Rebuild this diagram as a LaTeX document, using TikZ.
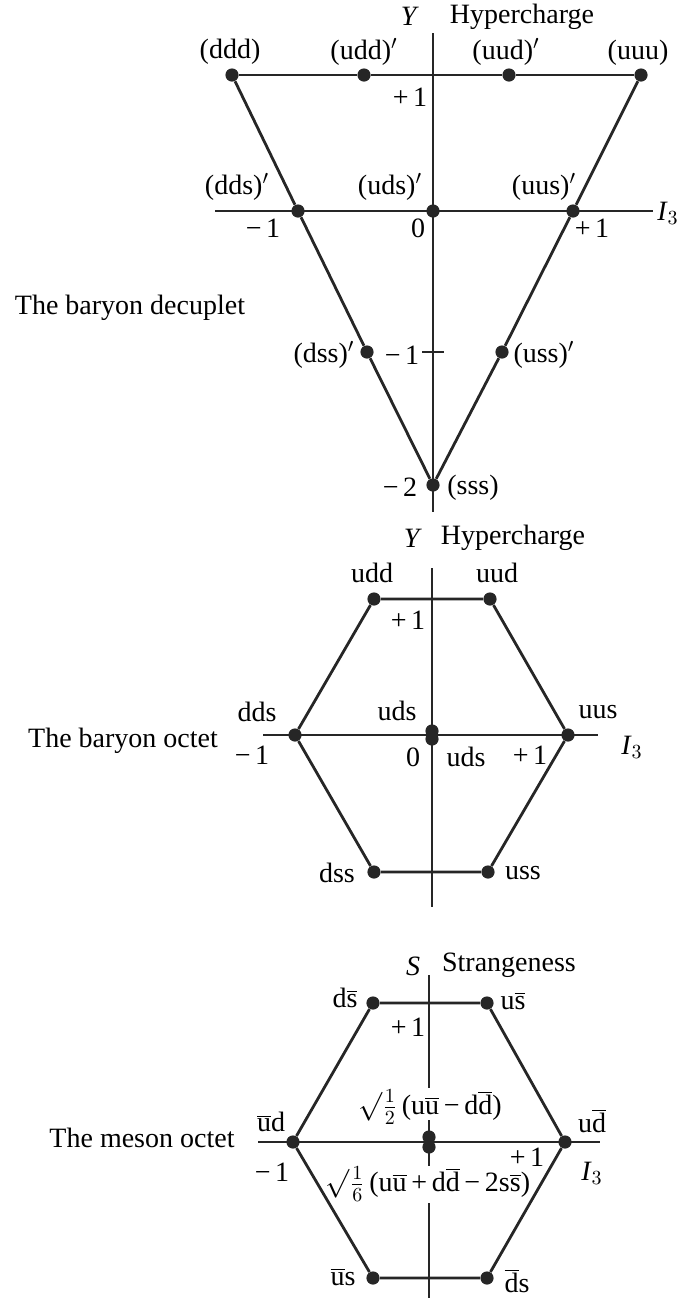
\documentclass[tikz,border=0pt]{standalone}
\usepackage{fontspec}
\setmainfont{Liberation Serif}
\usetikzlibrary{positioning}

\newcommand{\ovl}[1]{$\overline{\mbox{#1}}$}

\begin{document}
\begin{tikzpicture}[
    x=0.5pt, y=-0.5pt, % one unit = one pixel of the original
    every node/.style={font=\fontsize{14}{16}\selectfont, inner sep=1pt},
    dot/.style={fill=black!85, circle, inner sep=0pt, minimum size=6.6pt}, % Style for a particle
    axis/.style={line width=0.8pt, black!85},
    edge/.style={line width=1.4pt, black!85}
]
    \useasboundingbox (0,0) rectangle (683,1298);

    %% The baryon decuplet
    % Axes
    \coordinate (dYtop) at (433,33);  \coordinate (dYbot) at (433,512);
    \coordinate (dXlft) at (215,211); \coordinate (dXrgt) at (653,211);
    \draw[axis] (dYtop) -- (dYbot); % Y axis
    \draw[axis] (dXlft) -- (dXrgt); % I3 axis
    \coordinate (dTickl) at (422,352); \coordinate (dTickr) at (444,352);
    \draw[axis] (dTickl) -- (dTickr); % tick at -1

    % Particles
    \node[dot] (ddd) at (232,75) {};
    \node[dot] (udd) at (364,75) {};
    \node[dot] (uud) at (509,75) {};
    \node[dot] (uuu) at (641,75) {};
    \node[dot] (dds) at (298,211) {};
    \node[dot] (uds) at (433,211) {};
    \node[dot] (uus) at (573,211) {};
    \node[dot] (dss) at (367,352) {};
    \node[dot] (uss) at (502,352) {};
    \node[dot] (sss) at (433,485) {};

    % Triangle
    \draw[edge] (ddd) -- (udd) -- (uud) -- (uuu);
    \draw[edge] (uuu) -- (uus) -- (uss) -- (sss);
    \draw[edge] (sss) -- (dss) -- (dds) -- (ddd);

    % Labels
    \node (dY) at (410,16) {\textit{Y}};
    \node (dHyp) at (522,17) {Hypercharge};
    \node (lddd) at (230,52) {(ddd)};
    \node (ludd) at (364,52) {(udd)$'$};
    \node (luud) at (506,52) {(uud)$'$};
    \node (luuu) at (638,53) {(uuu)};
    \node (dP1) at (410,97) {+\,1};
    \node (ldds) at (237,187) {(dds)$'$};
    \node (luds) at (390,187) {(uds)$'$};
    \node (luus) at (544,187) {(uus)$'$};
    \node (dI) at (668,213) {\textit{I}$_3$};
    \node (dM1) at (263,228) {−\,1};
    \node (dZero) at (418,228) {0};
    \node (dP1b) at (592,228) {+\,1};
    \node (ldss) at (324,355) {(dss)$'$};
    \node (dM1b) at (402,355) {−\,1};
    \node (luss) at (544,355) {(uss)$'$};
    \node (dM2) at (400,487) {−\,2};
    \node (lsss) at (473,488) {(sss)};
    \node (dTitle) at (130,308) {The baryon decuplet};

    %% The baryon octet
    % Axes
    \coordinate (bYtop) at (432,568); \coordinate (bYbot) at (432,907);
    \coordinate (bXlft) at (263,735); \coordinate (bXrgt) at (598,735);
    \draw[axis] (bYtop) -- (bYbot);
    \draw[axis] (bXlft) -- (bXrgt);

    % Particles
    \node[dot] (oudd) at (374,599) {};
    \node[dot] (ouud) at (490,599) {};
    \node[dot] (ouus) at (568,735) {};
    \node[dot] (ouss) at (488,872) {};
    \node[dot] (odss) at (374,872) {};
    \node[dot] (odds) at (295,735) {};
    \node[dot] (oudsA) at (432,731) {};
    \node[dot] (oudsB) at (432,739) {};

    % Hexagon
    \draw[edge] (oudd) -- (ouud) -- (ouus) -- (ouss) -- (odss) -- (odds) -- (oudd);

    % Labels
    \node (bY) at (413,538) {\textit{Y}};
    \node (bHyp) at (513,538) {Hypercharge};
    \node (loudd) at (372,573) {udd};
    \node (louud) at (497,573) {uud};
    \node (bP1) at (408,620) {+\,1};
    \node (lodds) at (257,712) {dds};
    \node (loudsA) at (397,711) {uds};
    \node (louus) at (598,712) {uus};
    \node (bM1) at (252,755) {−\,1};
    \node (bZero) at (413,757) {0};
    \node (loudsB) at (466,757) {uds};
    \node (bP1b) at (530,755) {+\,1};
    \node (bI) at (632,747) {\textit{I}$_3$};
    \node (lodss) at (337,873) {dss};
    \node (louss) at (523,873) {uss};
    \node (bTitle) at (123,741) {The baryon octet};

    %% The meson octet
    % Axes (the S axis is broken by the two labels)
    \coordinate (mS1) at (429,975);  \coordinate (mS2) at (429,1088);
    \coordinate (mS3) at (429,1120); \coordinate (mS4) at (429,1166);
    \coordinate (mS5) at (429,1203); \coordinate (mS6) at (429,1298);
    \coordinate (mXlft) at (258,1142); \coordinate (mXrgt) at (600,1142);
    \draw[axis] (mS1) -- (mS2);
    \draw[axis] (mS3) -- (mS4);
    \draw[axis] (mS5) -- (mS6);
    \draw[axis] (mXlft) -- (mXrgt);

    % Particles
    \node[dot] (mds) at (373,1003) {};
    \node[dot] (mus) at (487,1003) {};
    \node[dot] (mud) at (565,1142) {};
    \node[dot] (mdbs) at (487,1278) {};
    \node[dot] (mubs) at (373,1278) {};
    \node[dot] (mubd) at (293,1142) {};
    \node[dot] (metaA) at (429,1137) {};
    \node[dot] (metaB) at (429,1147) {};

    % Hexagon
    \draw[edge] (mds) -- (mus) -- (mud) -- (mdbs) -- (mubs) -- (mubd) -- (mds);

    % Labels
    \node (mS) at (413,966) {\textit{S}};
    \node (mStr) at (509,965) {Strangeness};
    \node (lmds) at (345,998) {d\ovl{s}};
    \node (lmus) at (513,1001) {u\ovl{s}};
    \node (mP1) at (408,1027) {+\,1};
    \node (lmubd) at (271,1122) {\ovl{u}d};
    \node (lmud) at (592,1121) {u\ovl{d}};
    \node (mM1) at (272,1172) {−\,1};
    \node (mP1b) at (527,1157) {+\,1};
    \node (mI) at (592,1173) {\textit{I}$_3$};
    \node (lmetaA) at (430,1107) {$\surd\frac{1}{2}$\,(u\ovl{u}\,−\,d\ovl{d})};
    \node (lmetaB) at (428,1184) {$\surd\frac{1}{6}$\,(u\ovl{u}\,+\,d\ovl{d}\,−\,2s\ovl{s})};
    \node (lmubs) at (343,1277) {\ovl{u}s};
    \node (lmdbs) at (517,1281) {\ovl{d}s};
    \node (mTitle) at (142,1138) {The meson octet};

\end{tikzpicture}
\end{document}
